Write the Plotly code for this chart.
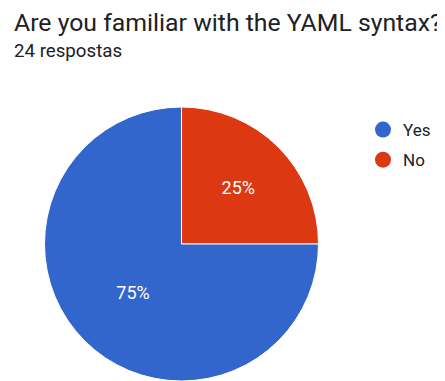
import plotly.graph_objects as go

labels = ["Yes", "No"]
values = [18, 6]
colors = ["#3366CC", "#DC3912"]
title = "Are you familiar with the YAML syntax?"
subtitle = "24 respostas"

# page body has an 8px margin, so the figure is drawn 8px in from the window edge
OFF = 8
W, H = 445 - OFF, 381 - OFF
fig = go.Figure()
fig.add_trace(go.Pie(
    labels=labels[::-1], values=values[::-1], sort=False, direction="clockwise",
    rotation=0, marker=dict(colors=colors[::-1], line=dict(color="white", width=1)),
    textinfo="percent", texttemplate="%{percent:.0%}",
    insidetextorientation="horizontal",
    textfont=dict(family="Roboto", size=18, color="white"),
    domain=dict(x=[(44 - OFF) / W, (319 - OFF) / W], y=[0, 274 / H]),
    showlegend=False, hoverinfo="label+percent",
))
for lab, col in zip(labels, colors):
    fig.add_trace(go.Scatter(
        x=[None], y=[None], mode="markers", name=lab, legendgroup=lab,
        marker=dict(color=col, size=16, symbol="circle"),
    ))

fig.update_layout(
    width=W, height=H, margin=dict(l=0, r=0, t=0, b=0),
    paper_bgcolor="white", plot_bgcolor="white",
    xaxis=dict(visible=False), yaxis=dict(visible=False),
    font=dict(family="Roboto", color="#202124"),
    legend=dict(x=(363 - OFF) / W, y=1 - (112 - OFF) / H, xanchor="left", yanchor="top",
                font=dict(family="Roboto", size=17, color="#202124"),
                itemsizing="trace", tracegroupgap=5),
    annotations=[
        dict(text=title, x=(12 - OFF) / W, y=1 - (6 - OFF) / H, xref="paper", yref="paper",
             xanchor="left", yanchor="top", showarrow=False,
             font=dict(family="Roboto", size=24.8, color="#202124")),
        dict(text=subtitle, x=(12 - OFF) / W, y=1 - (38 - OFF) / H, xref="paper", yref="paper",
             xanchor="left", yanchor="top", showarrow=False,
             font=dict(family="Roboto", size=18.7, color="#202124")),
    ],
)
fig.write_html("out.html")
